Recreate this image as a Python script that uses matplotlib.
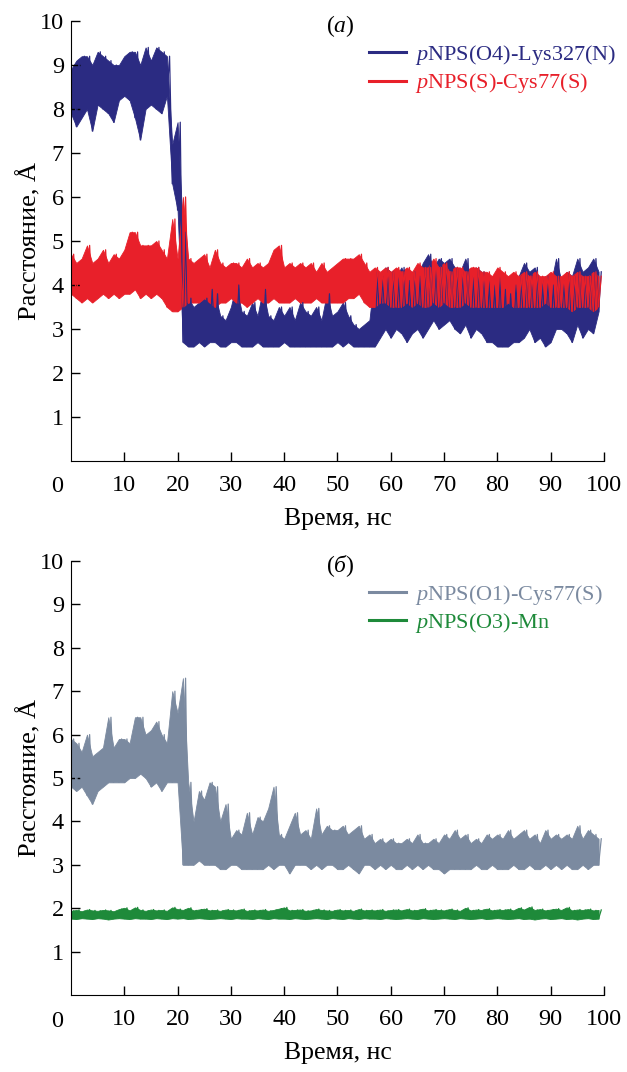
import numpy as np
import matplotlib
matplotlib.use('Agg')
import matplotlib.pyplot as plt

plt.rcParams['font.family'] = ['Liberation Serif', 'DejaVu Serif']
plt.rcParams['mathtext.fontset'] = 'custom'
plt.rcParams['mathtext.rm'] = 'Liberation Serif'
plt.rcParams['mathtext.it'] = 'Liberation Serif:italic'

# ---- data: per-nanosecond lower / upper envelope ----
time_ns = list(range(100))

# (a) pNPS(O4)-Lys327(N)
lys_lo = [7.9, 7.6, 7.8, 8.0, 7.5, 8.1, 8.0, 7.9, 7.7, 8.2,
          8.3, 8.2, 7.8, 7.3, 8.0, 8.1, 8.0, 7.9, 8.3, 6.3,
          5.7, 2.7, 2.6, 2.6, 2.7, 2.6, 2.7, 2.7, 2.6, 2.6,
          2.7, 2.7, 2.6, 2.6, 2.6, 2.7, 2.6, 2.6, 2.6, 2.6,
          2.7, 2.6, 2.6, 2.6, 2.6, 2.6, 2.6, 2.6, 2.6, 2.6,
          2.7, 2.6, 2.7, 2.6, 2.6, 2.6, 2.6, 2.6, 2.8, 3.0,
          2.8, 3.0, 2.9, 2.7, 2.9, 3.0, 2.8, 3.0, 3.2, 3.0,
          3.1, 3.2, 3.0, 2.9, 3.1, 2.8, 3.0, 2.9, 2.7, 2.7,
          2.6, 2.6, 2.6, 2.7, 2.7, 2.8, 3.0, 2.7, 2.8, 2.6,
          2.7, 3.0, 3.0, 2.9, 2.7, 3.1, 2.8, 3.0, 2.9, 3.4]
lys_hi = [8.9, 9.1, 9.2, 9.2, 9.0, 9.3, 9.2, 9.1, 9.0, 9.0,
          9.2, 9.3, 9.3, 9.0, 9.4, 9.1, 9.4, 9.3, 9.2, 7.2,
          7.7, 5.2, 3.7, 3.5, 3.6, 3.7, 3.9, 3.8, 3.3, 3.2,
          3.5, 4.0, 3.4, 3.3, 3.6, 3.3, 3.9, 3.3, 3.2, 3.5,
          3.3, 3.5, 3.2, 3.6, 3.4, 3.3, 3.5, 3.2, 3.8, 3.3,
          3.4, 3.6, 3.3, 3.1, 3.0, 3.1, 3.2, 4.3, 4.2, 4.4,
          4.3, 4.2, 4.4, 4.1, 4.3, 4.2, 4.5, 4.7, 4.4, 4.6,
          4.5, 4.6, 4.4, 4.3, 4.6, 4.2, 4.4, 4.3, 4.1, 4.0,
          4.2, 3.9, 3.8, 4.0, 4.2, 4.5, 4.3, 4.4, 4.1, 4.2,
          4.0, 4.6, 4.1, 4.3, 4.2, 4.6, 4.3, 4.4, 4.6, 4.3]

# (a) pNPS(S)-Cys77(S)
cys_s_lo = [3.8, 3.7, 3.6, 3.7, 3.6, 3.7, 3.8, 3.7, 3.8, 3.7,
            3.8, 3.8, 3.9, 3.7, 3.8, 3.7, 3.8, 3.7, 3.5, 3.4,
            3.4, 3.5, 3.6, 3.6, 3.6, 3.7, 3.6, 3.5, 3.6, 3.6,
            3.7, 3.6, 3.6, 3.5, 3.6, 3.7, 3.6, 3.6, 3.7, 3.6,
            3.6, 3.6, 3.7, 3.6, 3.6, 3.6, 3.7, 3.6, 3.6, 3.6,
            3.6, 3.6, 3.7, 3.7, 3.8, 3.6, 3.5, 3.5, 3.6, 3.6,
            3.5, 3.5, 3.5, 3.6, 3.5, 3.6, 3.5, 3.5, 3.6, 3.5,
            3.6, 3.5, 3.5, 3.5, 3.6, 3.5, 3.5, 3.5, 3.5, 3.5,
            3.5, 3.5, 3.6, 3.5, 3.5, 3.5, 3.5, 3.5, 3.5, 3.6,
            3.5, 3.5, 3.5, 3.5, 3.4, 3.5, 3.5, 3.5, 3.4, 3.5]
cys_s_hi = [4.7, 4.5, 4.6, 4.9, 4.5, 4.6, 4.8, 4.5, 4.7, 4.6,
            4.8, 5.2, 5.2, 4.9, 4.9, 4.9, 5.0, 4.8, 4.6, 5.5,
            4.6, 6.0, 4.6, 4.5, 4.6, 4.7, 4.4, 4.8, 4.5, 4.4,
            4.5, 4.5, 4.4, 4.6, 4.4, 4.5, 4.4, 4.5, 4.8, 4.9,
            4.4, 4.5, 4.4, 4.5, 4.4, 4.5, 4.3, 4.5, 4.3, 4.4,
            4.5, 4.6, 4.6, 4.6, 4.7, 4.5, 4.3, 4.4, 4.3, 4.4,
            4.3, 4.4, 4.3, 4.4, 4.3, 4.5, 4.4, 4.4, 4.6, 4.4,
            4.5, 4.3, 4.4, 4.4, 4.3, 4.4, 4.4, 4.3, 4.3, 4.2,
            4.4, 4.3, 4.2, 4.3, 4.2, 4.3, 4.2, 4.3, 4.2, 4.2,
            4.3, 4.2, 4.2, 4.3, 4.2, 4.3, 4.2, 4.2, 4.3, 4.2]

# (б) pNPS(O1)-Cys77(S)
o1_lo = [4.8, 4.7, 4.8, 4.6, 4.4, 4.7, 4.8, 4.9, 4.9, 4.9,
         4.9, 5.0, 5.0, 5.1, 5.0, 4.8, 4.9, 4.7, 4.9, 4.9,
         4.9, 3.0, 3.0, 3.0, 3.1, 3.0, 3.0, 3.0, 2.9, 2.9,
         3.0, 3.0, 2.9, 2.9, 2.9, 2.9, 2.9, 3.0, 2.9, 3.0,
         3.0, 2.8, 3.0, 3.0, 3.0, 2.9, 3.0, 2.9, 3.0, 3.0,
         2.9, 2.9, 3.0, 2.9, 2.8, 3.0, 3.0, 2.9, 3.0, 2.9,
         3.0, 2.9, 2.9, 3.0, 2.9, 3.0, 2.9, 3.0, 2.9, 2.9,
         2.8, 2.9, 2.9, 2.9, 2.9, 2.9, 3.0, 2.9, 2.9, 3.0,
         2.9, 2.9, 2.9, 3.0, 2.9, 2.9, 3.0, 2.9, 2.9, 3.0,
         2.9, 3.0, 2.9, 3.0, 2.9, 2.9, 3.0, 2.9, 3.0, 3.0]
o1_hi = [5.9, 5.8, 5.6, 6.0, 5.5, 5.6, 5.7, 6.4, 5.7, 5.9,
         5.9, 5.8, 6.4, 6.4, 6.0, 6.1, 6.3, 6.0, 5.8, 7.0,
         6.5, 7.3, 4.9, 4.0, 4.7, 4.5, 4.9, 4.8, 4.0, 4.4,
         3.6, 3.8, 3.7, 4.2, 3.7, 4.1, 4.0, 4.3, 4.8, 3.7,
         3.6, 3.9, 4.2, 3.7, 3.8, 3.6, 4.3, 3.7, 3.9, 3.8,
         3.8, 3.9, 3.7, 3.8, 3.9, 3.6, 3.7, 3.5, 3.6, 3.5,
         3.6, 3.5, 3.5, 3.6, 3.5, 3.7, 3.5, 3.5, 3.6, 3.5,
         3.7, 3.6, 3.8, 3.6, 3.7, 3.5, 3.6, 3.5, 3.7, 3.6,
         3.7, 3.6, 3.8, 3.6, 3.7, 3.8, 3.6, 3.7, 3.5, 3.8,
         3.6, 3.7, 3.6, 3.7, 3.6, 3.9, 3.6, 3.8, 3.7, 3.6]

# (б) pNPS(O3)-Mn
mn_lo = [1.76, 1.75, 1.77, 1.76, 1.75, 1.77, 1.76, 1.74, 1.76, 1.77,
         1.76, 1.75, 1.77, 1.76, 1.76, 1.75, 1.77, 1.76, 1.75, 1.77,
         1.76, 1.77, 1.75, 1.76, 1.77, 1.76, 1.75, 1.76, 1.77, 1.76,
         1.75, 1.77, 1.76, 1.76, 1.75, 1.77, 1.76, 1.75, 1.77, 1.76,
         1.76, 1.75, 1.77, 1.76, 1.75, 1.76, 1.77, 1.76, 1.75, 1.77,
         1.76, 1.75, 1.77, 1.76, 1.75, 1.77, 1.76, 1.76, 1.75, 1.77,
         1.76, 1.75, 1.76, 1.77, 1.76, 1.75, 1.77, 1.76, 1.75, 1.76,
         1.77, 1.76, 1.75, 1.77, 1.76, 1.75, 1.76, 1.77, 1.75, 1.76,
         1.77, 1.76, 1.75, 1.76, 1.77, 1.75, 1.76, 1.74, 1.76, 1.77,
         1.75, 1.76, 1.77, 1.75, 1.76, 1.74, 1.76, 1.77, 1.75, 1.76]
mn_hi = [1.94, 1.96, 1.93, 1.97, 1.95, 1.94, 1.96, 1.95, 1.93, 1.98,
         2.01, 1.95, 2.02, 1.96, 1.94, 1.97, 1.95, 1.96, 1.94, 2.02,
         1.98, 1.96, 2.01, 1.95, 1.97, 1.99, 1.95, 1.96, 1.94, 1.97,
         1.96, 1.95, 1.98, 1.94, 1.96, 1.95, 1.97, 1.94, 1.96, 1.99,
         2.02, 1.95, 1.96, 1.97, 1.94, 1.95, 1.98, 1.96, 1.95, 1.94,
         1.97, 1.95, 1.96, 1.94, 1.98, 1.95, 1.96, 1.95, 1.97, 1.94,
         1.96, 1.97, 1.95, 1.98, 1.95, 1.96, 1.99, 1.95, 1.97, 1.96,
         1.95, 1.98, 1.96, 1.94, 2.01, 1.95, 1.97, 1.96, 1.99, 1.95,
         1.97, 1.96, 1.98, 1.95, 2.01, 1.97, 2.03, 1.96, 1.98, 1.95,
         1.97, 1.99, 1.96, 2.02, 1.95, 1.97, 1.96, 1.98, 1.95, 1.96]

x_ticks = [10, 20, 30, 40, 50, 60, 70, 80, 90, 100]
y_ticks = [1, 2, 3, 4, 5, 6, 7, 8, 9, 10]

c_blue = '#2b2b82'
c_red = '#e8202a'
c_gray = '#7b8aa0'
c_green = '#1e8a3a'


def band(ax, lo, hi, color, label):
    # solid band between the envelopes plus a lo/hi zigzag for the spikes
    ax.fill_between(time_ns, lo, hi, color=color, lw=0.6, edgecolor=color)
    t = np.column_stack((time_ns, np.array(time_ns) + 0.5)).ravel()
    y = np.column_stack((lo, hi)).ravel()
    ax.plot(t, y, color=color, lw=0.9)
    ax.plot([], [], color=color, lw=2.2, label=label)


def style_axes(ax, tag):
    ax.set_xlim(0, 100)
    ax.set_ylim(0, 10)
    ax.spines['top'].set_visible(False)
    ax.spines['right'].set_visible(False)
    ax.set_xticks(x_ticks)
    ax.set_yticks(y_ticks)
    ax.tick_params(direction='in', length=6.5, width=1, labelsize=17.5)
    ax.tick_params(axis='x', pad=10)
    ax.tick_params(axis='y', pad=5)
    ax.annotate('0', xy=(0, 0), xycoords='axes fraction', xytext=(-14, -26),
                textcoords='offset pixels', ha='center', va='center',
                fontsize=17.5)
    ax.set_xlabel('Время, нс', fontsize=18.5, labelpad=9)
    ax.set_ylabel('Расстояние, Å', fontsize=19, labelpad=-1)
    ax.text(0.505, 0.988, tag, transform=ax.transAxes, ha='center',
            va='center', fontsize=17)
    ax.legend(loc='upper left', bbox_to_anchor=(0.56, 0.95), frameon=False,
              fontsize=16, handlelength=1.65, handletextpad=0.4,
              labelspacing=0.2, borderpad=0, borderaxespad=0,
              labelcolor='linecolor')


fig = plt.figure(figsize=(6.27, 10.72), dpi=100)
ax1 = fig.add_axes([0.1132, 0.570, 0.850, 0.4104])
ax2 = fig.add_axes([0.1132, 0.0718, 0.850, 0.4049])

band(ax1, lys_lo, lys_hi, c_blue, r'$\mathit{p}$NPS(O4)-Lys327(N)')
band(ax1, cys_s_lo, cys_s_hi, c_red, r'$\mathit{p}$NPS(S)-Cys77(S)')
style_axes(ax1, r'($\mathit{a}$)')

band(ax2, o1_lo, o1_hi, c_gray, r'$\mathit{p}$NPS(O1)-Cys77(S)')
band(ax2, mn_lo, mn_hi, c_green, r'$\mathit{p}$NPS(O3)-Mn')
style_axes(ax2, r'($\mathit{б}$)')

fig.savefig('out.png', dpi=100)
